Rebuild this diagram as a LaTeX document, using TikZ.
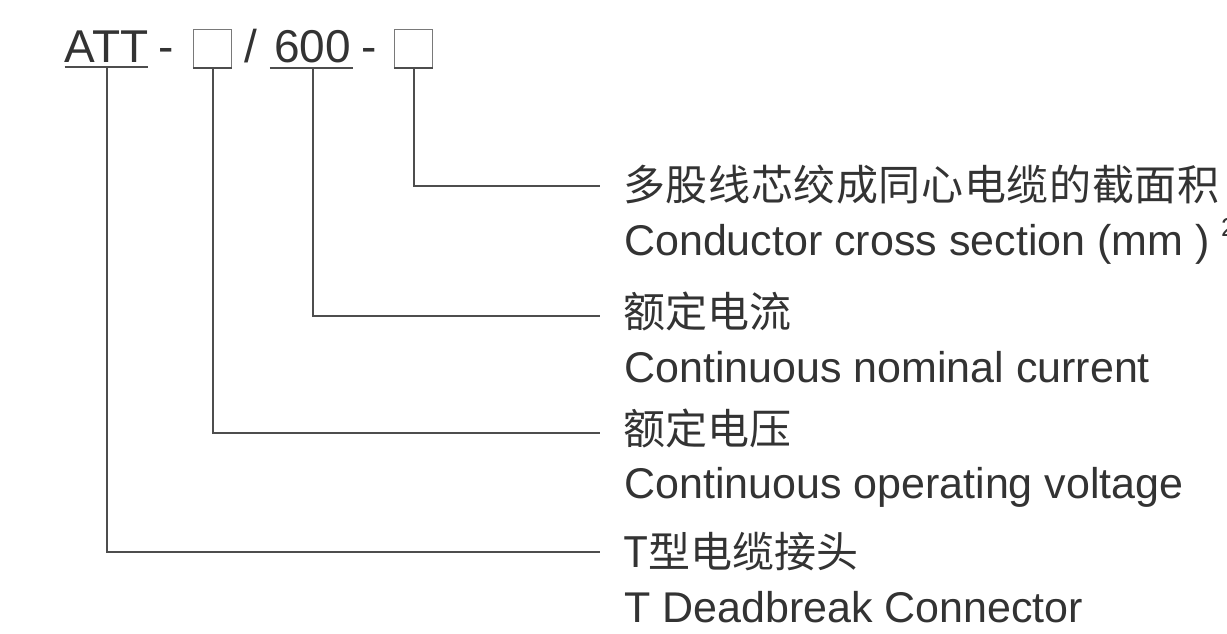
\documentclass[tikz,border=0pt]{standalone}
\usepackage{fontspec}
\setmainfont{Liberation Sans}
\newfontfamily\cjk{Noto Sans CJK SC}
\newfontfamily\cjkwide[LetterSpace=1.5]{Noto Sans CJK SC}
\definecolor{txt}{HTML}{333333}
\definecolor{ln}{HTML}{4D4D4D}
\begin{document}
\begin{tikzpicture}[x=1pt,y=-1pt,
  en/.style={anchor=base west, inner sep=0pt, text=txt, font=\fontsize{43}{43}\selectfont},
  zh/.style={anchor=base west, inner sep=0pt, text=txt, font=\cjk\fontsize{42}{42}\selectfont},
  code/.style={anchor=base, inner sep=0pt, text=txt, font=\fontsize{46}{46}\selectfont},
  conn/.style={draw=ln, line width=2pt},
  ubox/.style={draw=ln!75, line width=1.3pt, minimum width=38pt, minimum height=38pt, inner sep=0pt},
]
\useasboundingbox[fill=white] (0,0) rectangle (1227,633);

% code line
\node[code] (att) at (106.5,62) {ATT};
\node[code] (d1) at (166,62) {-};
\node[ubox] (b1) at (212.5,48.5) {};
\node[code] (sl) at (251,62) {/};
\node[code] (n600) at (312.5,62) {600};
\node[code] (d2) at (369,62) {-};
\node[ubox] (b2) at (413.5,48.5) {};

% underlines
\draw[conn] ([yshift=-5pt]att.base west) -- ([yshift=-5pt]att.base east);
\draw[conn] ([xshift=-4pt,yshift=-6pt]n600.base west) -- ([xshift=2pt,yshift=-6pt]n600.base east);
\draw[conn] (b1.south west) -- (b1.south east);
\draw[conn] (b2.south west) -- (b2.south east);

% connector ends
\coordinate (e1) at (600,186);
\coordinate (e2) at (600,316);
\coordinate (e3) at (600,433);
\coordinate (e4) at (600,552);

\draw[conn] (b2.south) |- (e1);
\draw[conn] ([yshift=-6pt]n600.base) |- (e2);
\draw[conn] (b1.south) |- (e3);
\draw[conn] ([yshift=-5pt]att.base) |- (e4);

% labels
\node[zh, font=\cjkwide\fontsize{42}{42}\selectfont] (z1) at (623,200) {多股线芯绞成同心电缆的截面积};
\node[en] (t1) at (624,255) {Conductor cross section (mm )};
\node[anchor=base west, inner sep=0pt, text=txt, font=\fontsize{26}{26}\selectfont] (sup) at (1221,236) {2};
\node[zh] (z2) at (623,327) {额定电流};
\node[en] (t2) at (624,382) {Continuous nominal current};
\node[zh] (z3) at (623,444) {额定电压};
\node[en] (t3) at (624,498) {Continuous operating voltage};
\node[zh] (z4) at (623,567) {T型电缆接头};
\node[en] (t4) at (624,622) {T Deadbreak Connector};
\end{tikzpicture}
\end{document}
